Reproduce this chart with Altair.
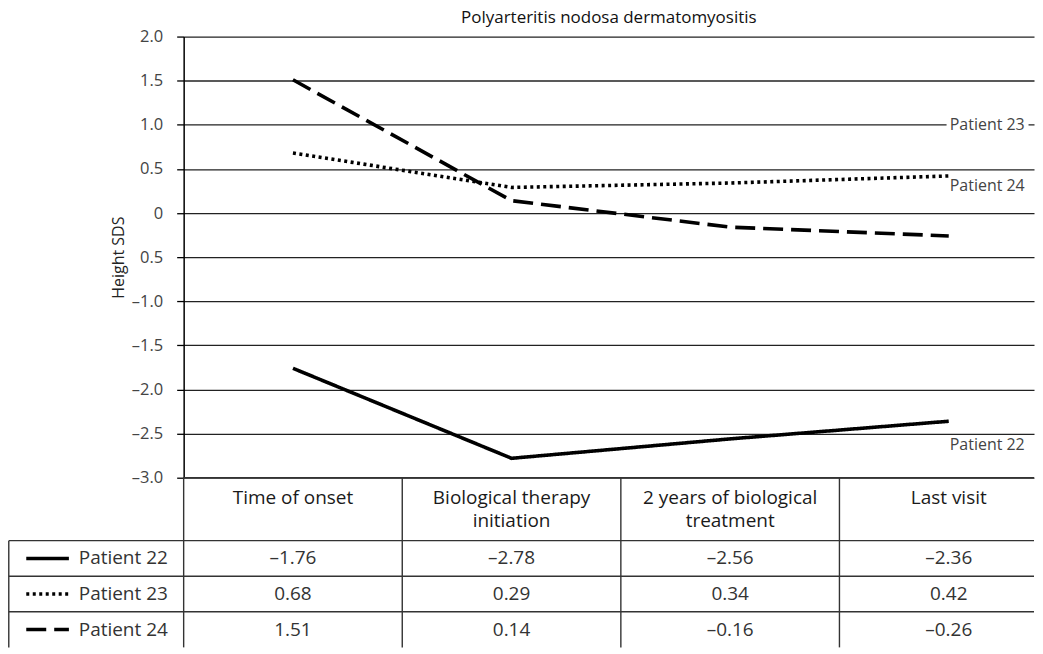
import altair as alt
import pandas as pd

# ---------------- data ----------------
title_text = "Polyarteritis nodosa dermatomyositis"
categories = ["Time of onset", "Biological therapy initiation",
              "2 years of biological treatment", "Last visit"]
header_labels = ["Time of onset", "Biological therapy\ninitiation",
                 "2 years of biological\ntreatment", "Last visit"]
patients = ["Patient 22", "Patient 23", "Patient 24"]
patient_22 = [-1.76, -2.78, -2.56, -2.36]
patient_23 = [0.68, 0.29, 0.34, 0.42]
patient_24 = [1.51, 0.14, -0.16, -0.26]
y_tick_values = [2.0, 1.5, 1.0, 0.5, 0.0, -0.5, -1.0, -1.5, -2.0, -2.5, -3.0]
y_tick_labels = ["2.0", "1.5", "1.0", "0.5", "0", "0.5", "–1.0", "–1.5", "–2.0", "–2.5", "–3.0"]
y_title = "Height SDS"
# in-chart labels, as printed in the source figure
annot_text = ["Patient 23", "Patient 24", "Patient 22"]
annot_value = [1.0, 0.31, -2.63]

# ---------------- layout constants ----------------
FONT = "Open Sans"
X_MAX = 3.89            # visible part of the 4 table columns (figure is cropped on the right)
LABEL_COL = -0.8        # left edge of the row-label column
PLOT_W = 852
PLOT_H = 442
HEADER_H = 1.77         # header row height in table row units
TABLE_ROWS = HEADER_H + len(patients)
TABLE_H = 170
dash_range = [[1, 0], [3, 3.5], [20, 8]]

series = [patient_22, patient_23, patient_24]
rows = []
for p, vals in zip(patients, series):
    for i, v in enumerate(vals):
        rows.append({"patient": p, "pos": i + 0.5, "value": v, "cat": categories[i]})
line_df = pd.DataFrame(rows)

label_expr = "".join(f"datum.value == {v} ? '{l}' : " for v, l in zip(y_tick_values, y_tick_labels)) + "''"

x_scale = alt.Scale(domain=[0, X_MAX], nice=False, zero=False)
y_scale = alt.Scale(domain=[-3, 2], nice=False, zero=False)
dash_scale = alt.Scale(domain=patients, range=dash_range)

y_axis = alt.Axis(values=y_tick_values, labelExpr=label_expr, grid=True,
                  gridColor="#222", gridWidth=1.3, domainColor="#000", domainWidth=1.5,
                  tickColor="#000", tickSize=7, tickWidth=1.3,
                  labelFont=FONT, labelFontSize=16.5, labelColor="#444", labelPadding=14,
                  title=y_title, titleFont=FONT, titleFontSize=16, titleFontWeight="normal",
                  titleColor="#222", titlePadding=5)

lines = alt.Chart(line_df).mark_line(color="black", strokeWidth=3.6, strokeCap="butt").encode(
    x=alt.X("pos:Q", scale=x_scale, axis=None),
    y=alt.Y("value:Q", scale=y_scale, axis=y_axis),
    strokeDash=alt.StrokeDash("patient:N", scale=dash_scale, legend=None),
    detail="patient:N",
    order="pos:Q",
)

annot_df = pd.DataFrame({"text": annot_text, "value": annot_value,
                         "x": [len(categories) - 0.5] * len(annot_text)})
annot_df["on_grid"] = annot_df["value"].isin(y_tick_values)
annot_df["bx0"] = annot_df["x"] - 0.01
annot_df["bx1"] = annot_df["x"] + 0.365
annot_df["by0"] = annot_df["value"] - 0.08
annot_df["by1"] = annot_df["value"] + 0.08

boxes = alt.Chart(annot_df[annot_df["on_grid"]]).mark_rect(color="white").encode(
    x=alt.X("bx0:Q", scale=x_scale, axis=None), x2="bx1:Q",
    y=alt.Y("by0:Q", scale=y_scale, axis=y_axis), y2="by1:Q",
)
annots = alt.Chart(annot_df).mark_text(align="left", baseline="middle", font=FONT,
                                       fontSize=16, color="#444", dx=1).encode(
    x=alt.X("x:Q", scale=x_scale, axis=None),
    y=alt.Y("value:Q", scale=y_scale, axis=y_axis),
    text="text:N",
)

top = alt.layer(lines, boxes, annots).properties(
    width=PLOT_W, height=PLOT_H,
    title=alt.TitleParams(title_text, font=FONT, fontSize=17, fontWeight="normal",
                          color="#111", anchor="middle", offset=2),
)

# ---------------- table ----------------
tx_scale = alt.Scale(domain=[0, X_MAX], nice=False, zero=False)
ty_scale = alt.Scale(domain=[0, TABLE_ROWS], nice=False, zero=False, reverse=True)

vlines = pd.DataFrame({"x": [LABEL_COL] + list(range(len(categories))),
                       "y0": [HEADER_H] + [0] * len(categories),
                       "y1": [TABLE_ROWS] * (len(categories) + 1)})
hlines = pd.DataFrame({"x0": [0] + [LABEL_COL] * len(patients),
                       "y": [0] + [HEADER_H + k for k in range(len(patients))]})
hlines["x1"] = X_MAX

rule_style = dict(color="#333", strokeWidth=1.4)
vrules = alt.Chart(vlines).mark_rule(**rule_style).encode(
    x=alt.X("x:Q", scale=tx_scale, axis=None),
    y=alt.Y("y0:Q", scale=ty_scale, axis=None), y2="y1:Q")
hrules = alt.Chart(hlines).mark_rule(**rule_style).encode(
    x=alt.X("x0:Q", scale=tx_scale, axis=None), x2="x1:Q",
    y=alt.Y("y:Q", scale=ty_scale, axis=None))

head_df = pd.DataFrame({"label": header_labels, "x": [i + 0.5 for i in range(len(categories))],
                        "y": [0] * len(categories)})
heads = alt.Chart(head_df).mark_text(baseline="top", align="center", lineBreak="\n", font=FONT,
                                     fontSize=19, lineHeight=23, color="#1a1a1a", dy=11).encode(
    x=alt.X("x:Q", scale=tx_scale, axis=None),
    y=alt.Y("y:Q", scale=ty_scale, axis=None),
    text="label:N")

row_df = pd.DataFrame({"patient": patients,
                       "y": [HEADER_H + k + 0.5 for k in range(len(patients))],
                       "sx0": [-0.72] * len(patients), "sx1": [-0.525] * len(patients),
                       "tx": [-0.48] * len(patients)})
symbols = alt.Chart(row_df).mark_rule(color="black", strokeWidth=3.5, strokeCap="butt").encode(
    x=alt.X("sx0:Q", scale=tx_scale, axis=None), x2="sx1:Q",
    y=alt.Y("y:Q", scale=ty_scale, axis=None),
    strokeDash=alt.StrokeDash("patient:N", scale=dash_scale, legend=None))
row_labels = alt.Chart(row_df).mark_text(align="left", baseline="middle", font=FONT,
                                         fontSize=19, color="#333").encode(
    x=alt.X("tx:Q", scale=tx_scale, axis=None),
    y=alt.Y("y:Q", scale=ty_scale, axis=None),
    text="patient:N")

val_rows = []
for k, (p, vals) in enumerate(zip(patients, series)):
    for i, v in enumerate(vals):
        val_rows.append({"x": i + 0.5, "y": HEADER_H + k + 0.5,
                         "txt": f"{v:.2f}".replace("-", "–")})
val_df = pd.DataFrame(val_rows)
values = alt.Chart(val_df).mark_text(align="center", baseline="middle", font=FONT,
                                     fontSize=19, color="#333").encode(
    x=alt.X("x:Q", scale=tx_scale, axis=None),
    y=alt.Y("y:Q", scale=ty_scale, axis=None),
    text="txt:N")

table = alt.layer(vrules, hrules, heads, symbols, row_labels, values).properties(
    width=PLOT_W, height=TABLE_H)

chart = alt.vconcat(top, table, spacing=0, bounds="flush").resolve_scale(
    y="independent").properties(padding=0, background="white").configure_view(stroke=None)

chart.save("out.html", embed_options={"renderer": "svg", "actions": False})
